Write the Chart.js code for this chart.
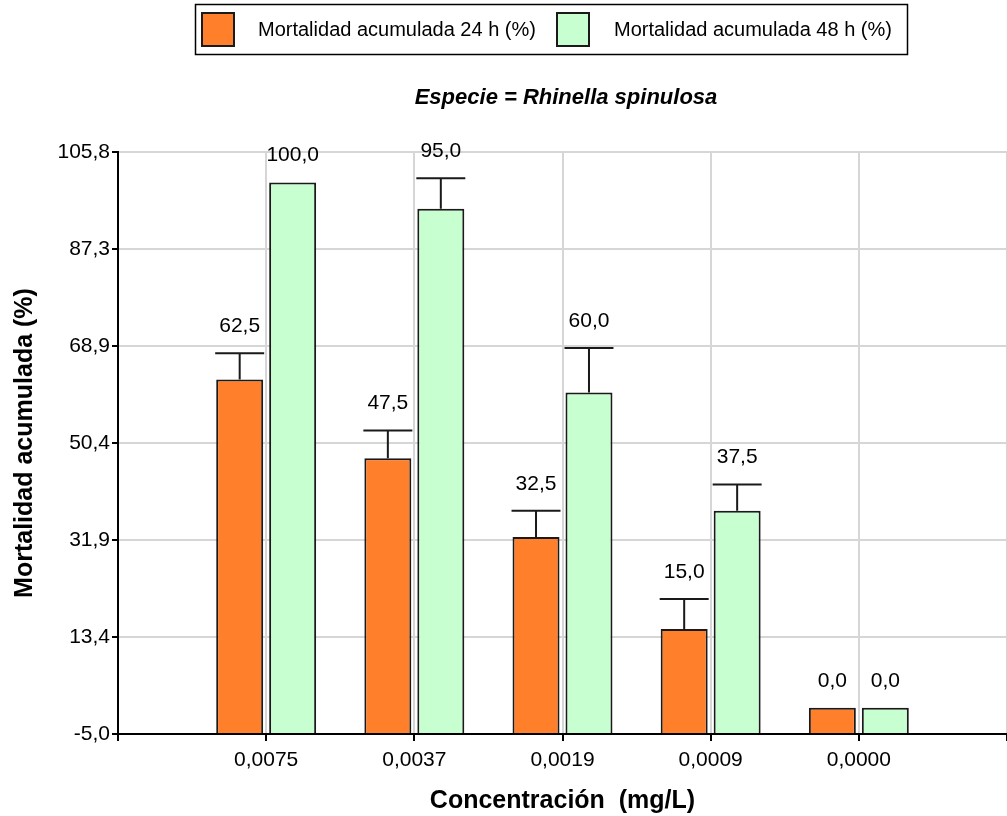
<!DOCTYPE html>
<html>
<head>
<meta charset="utf-8">
<script src="https://cdn.jsdelivr.net/npm/chart.js@4.4.1/dist/chart.umd.min.js"></script>
<style>
  body { margin: 0; background: #fff; }
  #wrap { width: 1007px; height: 816px; }
</style>
</head>
<body>
<div id="wrap"><canvas id="chart" width="1007" height="816"></canvas></div>
<script>
// chart values
const categories = ['0,0075', '0,0037', '0,0019', '0,0009', '0,0000'];
const mort24 = [62.5, 47.5, 32.5, 15.0, 0.0];
const mort48 = [100.0, 95.0, 60.0, 37.5, 0.0];
// error bars (upper part only)
const err24 = [5.0, 5.3, 5.0, 5.7, 0];
const err48 = [0, 5.8, 8.5, 5.0, 0];
const yTicks = [-5.0, 13.4, 31.9, 50.4, 68.9, 87.3, 105.8];
const seriesNames = ['Mortalidad acumulada 24 h (%)', 'Mortalidad acumulada 48 h (%)'];
const chartTitle = 'Especie = Rhinella spinulosa';

const FONT = '"Liberation Sans", Arial, sans-serif';
const orange = '#FF7F2A';
const green = '#C8FFD0';
const edge = '#1a1a1a';

// empty slot on each side of the categories
const labels = [''].concat(categories, ['']);
const pad = arr => [null].concat(arr, [null]);

function fmt(v) {
  return v.toFixed(1).replace('.', ',');
}

// error bars, value labels, legend box and title
const extras = {
  id: 'extras',
  afterDatasetsDraw(chart) {
    const ctx = chart.ctx;
    const yScale = chart.scales.y;
    chart.data.datasets.forEach((ds, di) => {
      const meta = chart.getDatasetMeta(di);
      meta.data.forEach((bar, i) => {
        const v = ds.data[i];
        if (v == null) return;
        const e = ds.errors[i];
        let top = bar.y;
        ctx.save();
        if (e > 0) {
          const ye = yScale.getPixelForValue(v + e);
          ctx.strokeStyle = edge;
          ctx.lineWidth = 2;
          ctx.beginPath();
          ctx.moveTo(bar.x, bar.y);
          ctx.lineTo(bar.x, ye);
          ctx.moveTo(bar.x - bar.width / 2 - 1, ye);
          ctx.lineTo(bar.x + bar.width / 2 + 1, ye);
          ctx.stroke();
          top = ye;
        }
        ctx.fillStyle = '#000';
        ctx.font = '21px ' + FONT;
        ctx.textAlign = 'center';
        ctx.textBaseline = 'middle';
        ctx.fillText(fmt(v), bar.x, top - 27);
        ctx.restore();
      });
    });
  },
  afterDraw(chart) {
    const ctx = chart.ctx;
    ctx.save();
    // legend
    ctx.strokeStyle = '#000';
    ctx.lineWidth = 1.5;
    ctx.strokeRect(195.5, 4.5, 712, 50);
    ctx.font = '20px ' + FONT;
    ctx.textBaseline = 'middle';
    ctx.textAlign = 'left';
    const items = [[202, 258], [557, 614]];
    chart.data.datasets.forEach((ds, di) => {
      const [sx, tx] = items[di];
      ctx.fillStyle = ds.backgroundColor;
      ctx.fillRect(sx, 13, 32, 33);
      ctx.strokeStyle = edge;
      ctx.lineWidth = 2;
      ctx.strokeRect(sx, 13, 32, 33);
      ctx.fillStyle = '#000';
      ctx.fillText(ds.label, tx, 30);
    });
    // title
    ctx.font = 'italic bold 22px ' + FONT;
    ctx.textAlign = 'center';
    ctx.fillText(chartTitle, 566, 98);
    ctx.restore();
  }
};

new Chart(document.getElementById('chart').getContext('2d'), {
  type: 'bar',
  data: {
    labels: labels,
    datasets: [{
      label: seriesNames[0],
      data: pad(mort24),
      errors: pad(err24),
      backgroundColor: orange,
      borderColor: edge,
      borderWidth: 2,
      base: yTicks[0]
    }, {
      label: seriesNames[1],
      data: pad(mort48),
      errors: pad(err48),
      backgroundColor: green,
      borderColor: edge,
      borderWidth: 2,
      base: yTicks[0]
    }]
  },
  options: {
    responsive: false,
    animation: false,
    devicePixelRatio: 1,
    categoryPercentage: 0.715,
    barPercentage: 0.887,
    layout: { padding: { top: 152, right: -9, bottom: 0, left: 0 } },
    plugins: {
      legend: { display: false },
      title: { display: false },
      tooltip: { enabled: false }
    },
    scales: {
      x: {
        type: 'category',
        offset: false,
        grid: { offset: false, color: '#d6d6d6', tickColor: '#000', tickLength: 7, lineWidth: 2 },
        border: { color: '#000', width: 2 },
        ticks: { color: '#000', font: { size: 21, family: FONT }, padding: 7, autoSkip: false, maxRotation: 0 },
        title: {
          display: true,
          text: 'Concentración  (mg/L)',
          color: '#000',
          font: { size: 25, weight: 'bold', family: FONT },
          padding: { top: 0, bottom: 0 }
        },
        afterFit: s => { s.height = 82; s.paddingLeft = 0; s.paddingRight = 0; }
      },
      y: {
        type: 'linear',
        min: yTicks[0],
        max: yTicks[yTicks.length - 1],
        afterBuildTicks: s => { s.ticks = yTicks.map(v => ({ value: v })); },
        grid: { color: '#d6d6d6', tickColor: '#000', tickLength: 6, lineWidth: 2 },
        border: { color: '#000', width: 2 },
        ticks: { color: '#000', font: { size: 21, family: FONT }, padding: 2, callback: v => fmt(v) },
        title: {
          display: true,
          text: 'Mortalidad acumulada (%)',
          color: '#000',
          font: { size: 25, weight: 'bold', family: FONT },
          padding: { top: 10, bottom: 0 }
        },
        afterFit: s => { s.width = 118; }
      }
    }
  },
  plugins: [extras]
});
</script>
</body>
</html>
